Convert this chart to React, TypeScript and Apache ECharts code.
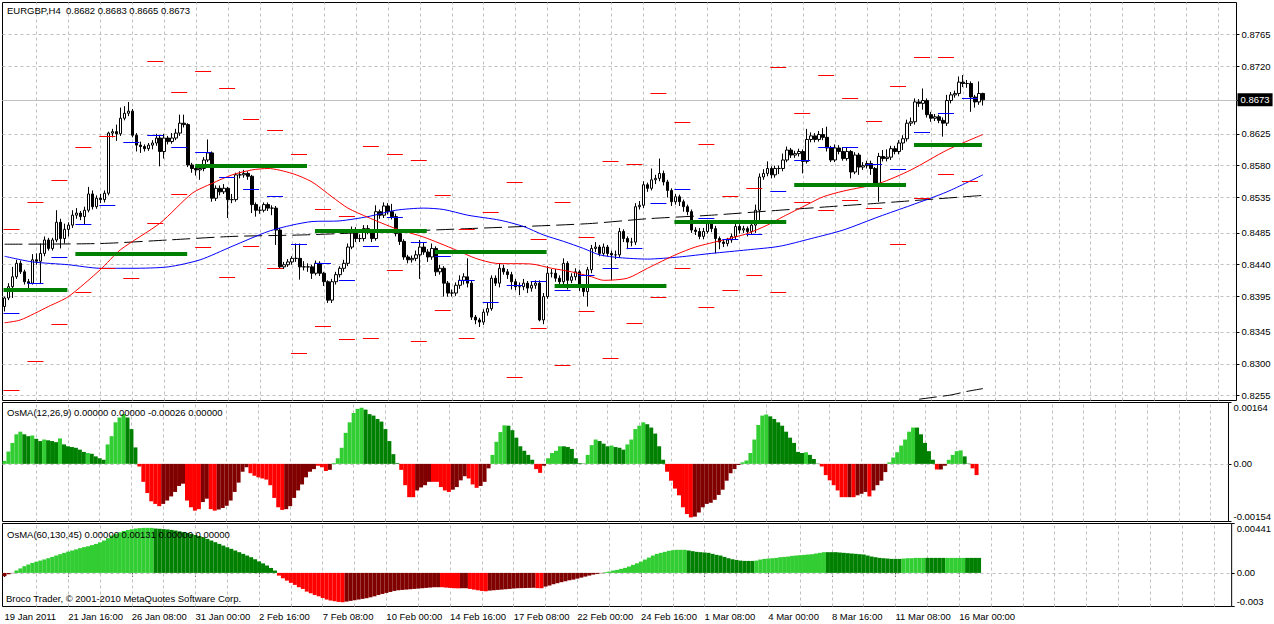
import React, { useEffect, useRef } from "react";
import * as echarts from "echarts";

// ---------- axis / label data ----------
const BAR_SLOTS = 309;
const dateLabels = [
  "19 Jan 2011", "21 Jan 16:00", "26 Jan 08:00", "31 Jan 00:00", "2 Feb 16:00", "7 Feb 08:00",
  "10 Feb 00:00", "14 Feb 16:00", "17 Feb 08:00", "22 Feb 00:00", "24 Feb 16:00", "1 Mar 08:00",
  "4 Mar 00:00", "8 Mar 16:00", "11 Mar 08:00", "16 Mar 00:00",
];
const BARS_PER_LABEL = 16;
const priceTicks = [0.8255, 0.83, 0.8345, 0.8395, 0.844, 0.8485, 0.8535, 0.858, 0.8625, 0.872, 0.8765];
const currentPrice = 0.8673;
const osma1Ticks = [-0.00154, 0, 0.00164];
const osma1TickText = ["-0.00154", "0.00", "0.00164"];
const osma2Ticks = [-0.003, 0, 0.00441];
const osma2TickText = ["-0.003", "0.00", "0.00441"];

// ---------- price data (pips, 0.0001) ----------
const firstOpen = 8381;
const closes = [
  8393, 8409, 8423, 8442, 8430, 8416, 8414, 8447, 8445, 8456,
  8475, 8463, 8475, 8500, 8477, 8490, 8496, 8510, 8513, 8508,
  8517, 8540, 8522, 8534, 8532, 8541, 8626, 8628, 8625, 8647,
  8654, 8657, 8623, 8609, 8607, 8604, 8609, 8612, 8619, 8600,
  8619, 8614, 8619, 8626, 8640, 8638, 8581, 8576, 8574, 8576,
  8588, 8598, 8534, 8548, 8543, 8548, 8532, 8532, 8567, 8567,
  8569, 8565, 8525, 8517, 8517, 8525, 8520, 8520, 8489, 8437,
  8440, 8444, 8449, 8449, 8437, 8437, 8437, 8428, 8442, 8428,
  8416, 8390, 8416, 8426, 8435, 8442, 8465, 8489, 8477, 8477,
  8491, 8487, 8477, 8515, 8510, 8523, 8515, 8508, 8484, 8473,
  8451, 8447, 8449, 8454, 8465, 8458, 8451, 8463, 8430, 8435,
  8414, 8400, 8400, 8411, 8418, 8423, 8414, 8366, 8362, 8359,
  8373, 8378, 8421, 8414, 8435, 8430, 8426, 8416, 8409, 8409,
  8414, 8407, 8411, 8414, 8362, 8395, 8428, 8428, 8421, 8416,
  8442, 8418, 8423, 8430, 8409, 8402, 8433, 8463, 8465, 8456,
  8465, 8456, 8454, 8454, 8487, 8477, 8472, 8472, 8522, 8524,
  8553, 8548, 8560, 8562, 8569, 8557, 8545, 8529, 8536, 8529,
  8522, 8515, 8489, 8487, 8480, 8487, 8498, 8491, 8477, 8472,
  8470, 8475, 8480, 8494, 8489, 8491, 8487, 8496, 8517, 8564,
  8569, 8576, 8567, 8576, 8576, 8588, 8602, 8595, 8597, 8600,
  8586, 8617, 8622, 8617, 8624, 8620, 8605, 8588, 8605, 8600,
  8590, 8600, 8571, 8595, 8578, 8580, 8583, 8576, 8555, 8593,
  8590, 8592, 8604, 8600, 8612, 8618, 8640, 8642, 8670, 8668,
  8672, 8652, 8647, 8649, 8644, 8640, 8672, 8680, 8682, 8698,
  8696, 8696, 8677, 8670, 8682, 8673,
];
const highs = [
  8395, 8414, 8437, 8447, 8446, 8433, 8420, 8455, 8456, 8470,
  8480, 8478, 8478, 8517, 8505, 8498, 8500, 8517, 8520, 8516,
  8522, 8550, 8545, 8538, 8540, 8545, 8628, 8632, 8638, 8662,
  8664, 8670, 8660, 8626, 8614, 8610, 8612, 8616, 8625, 8623,
  8625, 8622, 8626, 8632, 8652, 8652, 8640, 8584, 8579, 8581,
  8592, 8617, 8600, 8552, 8552, 8554, 8550, 8540, 8570, 8572,
  8574, 8572, 8567, 8528, 8522, 8528, 8528, 8524, 8523, 8492,
  8444, 8448, 8452, 8470, 8470, 8445, 8442, 8440, 8446, 8445,
  8430, 8418, 8420, 8430, 8438, 8447, 8470, 8494, 8493, 8483,
  8496, 8496, 8490, 8524, 8518, 8528, 8527, 8526, 8512, 8487,
  8476, 8454, 8453, 8460, 8475, 8471, 8462, 8470, 8466, 8440,
  8438, 8417, 8405, 8415, 8425, 8428, 8449, 8417, 8369, 8365,
  8377, 8387, 8425, 8425, 8442, 8440, 8434, 8430, 8420, 8415,
  8420, 8417, 8416, 8418, 8418, 8400, 8438, 8434, 8434, 8425,
  8449, 8445, 8428, 8435, 8433, 8412, 8437, 8468, 8472, 8468,
  8470, 8468, 8460, 8460, 8492, 8490, 8480, 8478, 8527, 8530,
  8558, 8556, 8576, 8567, 8590, 8573, 8560, 8548, 8540, 8539,
  8532, 8525, 8518, 8493, 8492, 8492, 8503, 8502, 8495, 8480,
  8476, 8478, 8484, 8499, 8497, 8495, 8494, 8500, 8525, 8569,
  8575, 8586, 8579, 8580, 8580, 8597, 8607, 8605, 8601, 8604,
  8603, 8632, 8627, 8626, 8629, 8633, 8635, 8608, 8610, 8609,
  8606, 8605, 8602, 8599, 8598, 8585, 8587, 8587, 8578, 8598,
  8602, 8603, 8608, 8608, 8616, 8623, 8645, 8648, 8675, 8674,
  8689, 8675, 8656, 8653, 8652, 8648, 8680, 8684, 8686, 8706,
  8708, 8701, 8699, 8680, 8699, 8683,
];
const lows = [
  8374, 8390, 8393, 8420, 8427, 8412, 8405, 8412, 8440, 8414,
  8452, 8460, 8460, 8472, 8463, 8470, 8480, 8492, 8505, 8503,
  8497, 8514, 8518, 8519, 8527, 8528, 8538, 8620, 8615, 8622,
  8644, 8650, 8620, 8600, 8598, 8600, 8601, 8603, 8608, 8579,
  8590, 8610, 8611, 8616, 8622, 8634, 8578, 8570, 8566, 8560,
  8572, 8585, 8529, 8530, 8538, 8540, 8506, 8527, 8529, 8562,
  8563, 8560, 8513, 8508, 8512, 8514, 8516, 8510, 8468, 8435,
  8434, 8437, 8440, 8444, 8419, 8432, 8430, 8420, 8425, 8424,
  8410, 8386, 8386, 8412, 8422, 8430, 8438, 8462, 8472, 8472,
  8473, 8483, 8472, 8474, 8505, 8506, 8511, 8504, 8480, 8468,
  8447, 8442, 8443, 8445, 8420, 8454, 8444, 8447, 8424, 8426,
  8395, 8395, 8395, 8396, 8406, 8412, 8408, 8362, 8356, 8352,
  8355, 8368, 8375, 8410, 8408, 8426, 8420, 8405, 8404, 8397,
  8404, 8400, 8402, 8406, 8360, 8356, 8392, 8422, 8416, 8410,
  8412, 8405, 8414, 8418, 8403, 8395, 8381, 8428, 8458, 8452,
  8452, 8452, 8418, 8448, 8450, 8472, 8462, 8466, 8468, 8518,
  8520, 8543, 8545, 8554, 8558, 8552, 8535, 8523, 8525, 8523,
  8515, 8510, 8485, 8482, 8476, 8476, 8484, 8486, 8456, 8462,
  8465, 8466, 8471, 8476, 8484, 8485, 8480, 8483, 8485, 8500,
  8560, 8565, 8562, 8563, 8568, 8572, 8585, 8591, 8591, 8593,
  8569, 8583, 8613, 8613, 8614, 8616, 8600, 8585, 8585, 8596,
  8587, 8587, 8562, 8568, 8567, 8574, 8576, 8567, 8552, 8529,
  8586, 8586, 8588, 8596, 8596, 8602, 8614, 8636, 8638, 8663,
  8659, 8648, 8642, 8643, 8640, 8621, 8636, 8668, 8676, 8678,
  8691, 8690, 8656, 8662, 8666, 8665,
];

// moving averages: [bar, pips]
const redMA = [
  [0, 8358], [4, 8362], [11, 8381], [16, 8395], [24, 8433], [29, 8461], [39, 8499], [47, 8541],
  [52, 8555], [57, 8567], [62, 8574], [66, 8576], [72, 8569], [77, 8557], [82, 8536], [86, 8520],
  [91, 8507], [98, 8491], [105, 8479], [113, 8461], [118, 8449], [123, 8442], [132, 8441], [137, 8435],
  [142, 8430], [147, 8423], [150, 8418], [156, 8421], [161, 8435], [168, 8454], [173, 8465], [180, 8475],
  [186, 8484], [191, 8496], [195, 8508], [201, 8525], [205, 8536], [210, 8544], [219, 8555], [227, 8574],
  [236, 8602], [245, 8624],
];
const blueMA = [
  [0, 8452], [7, 8444], [16, 8440], [24, 8435], [32, 8435], [41, 8437], [49, 8447], [57, 8466],
  [66, 8487], [72, 8496], [77, 8501], [84, 8502], [91, 8508], [98, 8517], [105, 8520], [110, 8518],
  [116, 8510], [124, 8503], [130, 8494], [135, 8482], [140, 8473], [145, 8463], [149, 8454], [154, 8450],
  [161, 8448], [169, 8451], [177, 8456], [186, 8461], [194, 8466], [202, 8477], [210, 8489], [219, 8508],
  [227, 8524], [236, 8543], [245, 8567],
];
const blackMA = [
  [0, 8469], [24, 8470], [41, 8475], [57, 8480], [74, 8482], [84, 8484], [116, 8491], [146, 8498],
  [161, 8505], [177, 8510], [194, 8517], [209, 8523], [219, 8527], [245, 8538],
];
const blackMA2 = [[229, 8250], [233, 8253], [237, 8256], [241, 8261], [245, 8265]];

// daily levels per trading day (pips)
const pivotR = [8490, 8529, 8560, 8607, 8622, null, 8728, 8684, 8714, 8690, 8646, 8630, 8596, 8519, 8509, 8608, 8597, 8588, 8538, 8491, 8514, 8557, 8476, 8529, 8479, 8586, 8582, 8683, 8641, 8610, 8537, 8548, 8719, 8654, 8708, 8675, 8643, 8692, 8733, 8733, null];
const pivotP = [8372, 8414, 8451, 8498, 8524, 8613, 8623, 8607, 8599, 8564, 8547, 8537, 8469, 8442, 8418, 8466, 8507, 8472, 8452, 8418, 8387, 8411, 8417, 8404, 8425, 8436, 8463, 8527, 8547, 8506, 8476, 8484, 8544, 8588, 8606, 8606, 8582, 8575, 8627, 8655, 8675];
const pivotS = [8263, 8304, 8356, 8401, 8435, 8421, 8499, 8540, 8465, 8423, 8466, 8435, 8316, 8353, 8335, 8337, 8433, 8332, 8376, 8336, null, 8281, 8350, 8298, 8375, 8308, 8357, 8394, 8435, 8381, 8405, 8425, 8401, 8528, 8517, 8531, 8520, 8470, 8535, 8568, 8559];

// weekly levels
const weeklyStart = [0, 18, 48, 78, 108, 138, 168, 198, 228];
const weeklyEnd = [16, 46, 76, 106, 136, 166, 196, 226, 245];
const weeklyPrice = [8404, 8455, 8580, 8488, 8458, 8410, 8500, 8552, 8609];

// OsMA(12,26,9), units of 0.00001
const osma1 = [
  8, 33, 56, 79, 86, 79, 74, 76, 67, 61,
  65, 63, 61, 58, 68, 52, 47, 45, 43, 38,
  32, 29, 27, 20, 15, 11, 52, 74, 111, 124,
  133, 124, 93, 44, -7, -48, -78, -100, -107, -113,
  -107, -98, -87, -75, -59, -53, -98, -116, -125, -121,
  -102, -93, -121, -125, -122, -118, -112, -98, -75, -50,
  -21, -9, -25, -32, -36, -39, -42, -57, -91, -116,
  -123, -121, -113, -91, -71, -55, -36, -21, -14, -5,
  -9, -19, -16, 2, 15, 43, 83, 111, 136, 147,
  150, 145, 133, 129, 120, 113, 93, 61, 26, 2,
  -16, -57, -89, -89, -71, -63, -57, -48, -48, -48,
  -62, -71, -75, -69, -62, -44, -33, -39, -55, -64,
  -59, -48, -12, 24, 59, 85, 103, 102, 90, 70,
  47, 35, 24, 11, -14, -24, -5, 15, 29, 35,
  47, 47, 45, 40, 15, 2, 1, 24, 50, 65,
  61, 54, 47, 49, 45, 43, 38, 52, 65, 93,
  102, 111, 106, 97, 81, 47, 11, -21, -45, -66,
  -84, -116, -134, -143, -141, -130, -116, -107, -104, -96,
  -83, -69, -45, -25, -14, -3, 4, 9, 29, 65,
  104, 129, 132, 127, 120, 111, 102, 86, 70, 56,
  32, 29, 31, 24, 13, 1, -7, -30, -44, -57,
  -71, -89, -89, -89, -89, -84, -80, -75, -87, -71,
  -57, -45, -22, 4, 17, 31, 49, 65, 86, 97,
  97, 79, 56, 34, 11, -15, -15, -5, 11, 24,
  34, 36, 20, 1, -12, -30,
];
const osma1Colors =
  "LLLLLDDLDD" + "LDDDLDDDDD" + "DLDDDDLLLL" + "LDDDRRRRRR" + "MMMMMMRRRR" +
  "MMRRMMMMMM" + "MMRRRRRRRR" + "RMMMMMMMMR" + "RRMLLLLLLL" + "LDDDDDDDDD" +
  "RRRRMMMMRR" + "RRRMMMMRRR" + "MMMLLLLDDD" + "DDDDRRMLLL" + "LDDDDDDLLL" +
  "DDDLDDDLLL" + "LLDDDDDRRR" + "RRRRMMMMMM" + "MMMMMMLLLL" + "LLLDDDDDDD" +
  "DDLDDDRRRR" + "RRRMRMMMRM" + "MMMLLLLLLL" + "DDDDDRMMLL" + "LLDDRR";

// OsMA(60,130,45), units of 0.00001
const osma2 = [
  -30, -12, -3, 21, 40, 60, 75, 89, 100, 110,
  120, 131, 143, 155, 167, 179, 190, 200, 210, 221,
  230, 238, 248, 259, 273, 289, 310, 334, 349, 363,
  374, 384, 390, 396, 400, 402, 402, 402, 396, 394,
  391, 388, 384, 378, 371, 364, 357, 348, 338, 329,
  319, 304, 289, 274, 259, 244, 229, 215, 200, 185,
  170, 155, 140, 122, 103, 85, 66, 44, 21, -24,
  -48, -69, -89, -107, -128, -143, -167, -182, -197, -209,
  -224, -238, -247, -253, -259, -262, -256, -250, -244, -238,
  -232, -226, -218, -209, -197, -188, -179, -170, -161, -155,
  -152, -149, -146, -143, -140, -137, -134, -131, -128, -128,
  -128, -131, -134, -137, -138, -137, -137, -143, -149, -155,
  -161, -164, -158, -155, -152, -149, -146, -143, -140, -137,
  -136, -135, -134, -133, -136, -137, -122, -113, -101, -92,
  -83, -75, -66, -60, -51, -42, -33, -24, -15, -9,
  -3, 6, 12, 21, 27, 36, 45, 57, 72, 86,
  101, 119, 137, 155, 170, 179, 188, 197, 203, 206,
  206, 206, 200, 194, 188, 185, 182, 179, 170, 161,
  155, 143, 131, 122, 116, 110, 107, 107, 107, 110,
  119, 125, 128, 131, 134, 140, 143, 146, 152, 155,
  158, 161, 164, 167, 173, 179, 185, 185, 185, 185,
  182, 179, 176, 173, 170, 167, 164, 155, 146, 140,
  134, 131, 128, 125, 125, 125, 128, 131, 131, 134,
  134, 134, 134, 134, 134, 134, 134, 134, 134, 134,
  134, 134, 134, 134, 134, 134,
];
const osma2Colors =
  "MMMLLLLLLL" + "LLLLLLLLLL" + "LLLLLLLLLL" + "LLLLLLLLDD" + "DDDDDDDDDD" +
  "DDDDDDDDDD" + "DDDDDDDDDR" + "RRRRRRRRRR" + "RRRRRRMMMM" + "MMMMMMMMMM" +
  "MMMMMMMMMM" + "RRRRRMMRRR" + "RRMMMMMMMM" + "MMMMRRMMMM" + "MMMMMMMMMM" +
  "MLLLLLLLLL" + "LLLLLLLLLL" + "LLDDDDDDDD" + "DDDDDDDDDL" + "LLLLLLLLLL" +
  "LLLLLLLDDD" + "DDDDDDDDDD" + "DDDDDDLLLL" + "LLDDDDDLLL" + "LLDDDD";

const HIST_COLORS: Record<string, string> = { L: "#32CD32", D: "#008000", R: "#FF0000", M: "#800000" };

const FONT = "Liberation Sans, Arial, sans-serif";
const GRID_LINE = "#C0C0C0";

export default function App() {
  const ref = useRef<HTMLDivElement>(null);

  useEffect(() => {
    if (!ref.current) return;
    const chart = echarts.init(ref.current, undefined, { renderer: "svg" });

    const categories = Array.from({ length: BAR_SLOTS }, (_, i) => String(i));
    const isLabelBar = (i: number) => i % BARS_PER_LABEL === 0 && i / BARS_PER_LABEL < dateLabels.length;
    const labelFor = (v: string) => {
      const i = Number(v);
      return isLabelBar(i) ? dateLabels[i / BARS_PER_LABEL] : "";
    };

    const candleData = closes.map((c, i) => {
      const o = i === 0 ? firstOpen : closes[i - 1];
      const h = Math.max(highs[i], o, c);
      const l = Math.min(lows[i], o, c);
      return [o / 1e4, c / 1e4, l / 1e4, h / 1e4];
    });

    const vLines: any[] = [];
    for (let b = 8; b < BAR_SLOTS - 2; b += 8) vLines.push({ xAxis: String(b) });

    const dashed = { color: GRID_LINE, type: [3, 3] as any, width: 1 };

    const segRender = (color: string, width: number) => (params: any, api: any) => {
      const p1 = api.coord([api.value(0), api.value(2)]);
      const p2 = api.coord([api.value(1), api.value(2)]);
      const y = width % 2 === 1 ? Math.round(p1[1]) + 0.5 : Math.round(p1[1]);
      return {
        type: "line",
        silent: true,
        shape: { x1: p1[0] - 1, y1: y, x2: p2[0] - 1, y2: y },
        style: { stroke: color, lineWidth: width },
      };
    };

    const dayLevels = (arr: (number | null)[]) =>
      arr
        .map((p, k) => (p == null ? null : [6 * k, 6 * k + 4, p / 1e4]))
        .filter((d) => d != null);

    const weekly = weeklyPrice.map((p, i) => [weeklyStart[i], weeklyEnd[i], p / 1e4]);

    const maLine = (data: number[][], color: string, type: any, z: number) => ({
      type: "line",
      xAxisIndex: 0,
      yAxisIndex: 0,
      data: data.map(([b, p]) => [b, p / 1e4]),
      showSymbol: false,
      symbol: "none",
      smooth: 0.25,
      silent: true,
      z,
      lineStyle: { color, width: 1, type },
    });

    const tickFmt = (ticks: number[], texts: string[]) => (v: number) => {
      for (let i = 0; i < ticks.length; i++) if (Math.abs(ticks[i] - v) < 1e-9) return texts[i];
      return "";
    };

    const xAxisFor = (g: number) => ({
      gridIndex: g,
      type: "category",
      data: categories,
      boundaryGap: true,
      axisLine: { show: false },
      splitLine: { show: false },
      axisTick: {
        show: g === 2,
        alignWithLabel: true,
        interval: (i: number) => isLabelBar(i),
        length: 4,
        lineStyle: { color: "#000" },
      },
      axisLabel: {
        show: g === 2,
        interval: (i: number) => isLabelBar(i),
        formatter: labelFor,
        align: "left",
        margin: 5,
        color: "#000",
        fontSize: 9.5,
        fontFamily: FONT,
      },
    });

    const histItems = (vals: number[], colors: string) =>
      vals.map((v, i) => ({ value: v / 1e5, itemStyle: { color: HIST_COLORS[colors[i]] } }));

    const gridMarkLine = (extra: any[]) => ({
      silent: true,
      symbol: ["none", "none"],
      precision: 6,
      z: 1,
      label: { show: false },
      lineStyle: dashed,
      data: [...vLines, ...extra],
    });

    const option: any = {
      animation: false,
      backgroundColor: "#fff",
      textStyle: { fontFamily: FONT },
      grid: [
        { left: 2.5, top: 2.5, width: 1234, height: 398, show: true, borderColor: "#000", borderWidth: 1, backgroundColor: "#fff" },
        { left: 2.5, top: 402.5, width: 1234, height: 119, show: true, borderColor: "#000", borderWidth: 1, backgroundColor: "#fff" },
        { left: 2.5, top: 523.5, width: 1234, height: 83, show: true, borderColor: "#000", borderWidth: 1, backgroundColor: "#fff" },
      ],
      xAxis: [xAxisFor(0), xAxisFor(1), xAxisFor(2)],
      yAxis: [
        {
          gridIndex: 0,
          type: "value",
          position: "right",
          min: 0.82482,
          max: 0.88105,
          splitLine: { show: false },
          axisLine: { show: false },
          axisTick: { show: true, customValues: [...priceTicks, currentPrice], length: 3, lineStyle: { color: "#000" } },
          axisLabel: {
            customValues: priceTicks,
            formatter: (v: number) => v.toFixed(4),
            color: "#000",
            fontSize: 9.5,
            fontFamily: FONT,
            margin: 5,
          },
        },
        {
          gridIndex: 1,
          type: "value",
          position: "right",
          min: osma1Ticks[0],
          max: osma1Ticks[2],
          splitLine: { show: false },
          axisLine: { show: false },
          axisTick: { show: true, customValues: osma1Ticks, length: 3, lineStyle: { color: "#000" } },
          axisLabel: {
            customValues: osma1Ticks,
            formatter: tickFmt(osma1Ticks, osma1TickText),
            verticalAlignMinLabel: "bottom",
            verticalAlignMaxLabel: "top",
            color: "#000",
            fontSize: 9.5,
            fontFamily: FONT,
            margin: 5,
          },
        },
        {
          gridIndex: 2,
          type: "value",
          position: "right",
          min: osma2Ticks[0],
          max: osma2Ticks[2],
          splitLine: { show: false },
          axisLine: { show: false },
          axisTick: { show: true, customValues: osma2Ticks, length: 3, lineStyle: { color: "#000" } },
          axisLabel: {
            customValues: osma2Ticks,
            formatter: tickFmt(osma2Ticks, osma2TickText),
            verticalAlignMinLabel: "bottom",
            verticalAlignMaxLabel: "top",
            color: "#000",
            fontSize: 9.5,
            fontFamily: FONT,
            margin: 5,
          },
        },
      ],
      graphic: [
        { type: "text", left: 7, top: 5, z: 100, silent: true, style: { text: "EURGBP,H4  0.8682 0.8683 0.8665 0.8673", fill: "#000", fontSize: 9.5, fontFamily: FONT } },
        { type: "text", left: 7, top: 407, z: 100, silent: true, style: { text: "OsMA(12,26,9) 0.00000 0.00000 -0.00026 0.00000", fill: "#000", fontSize: 9.5, fontFamily: FONT } },
        { type: "text", left: 7, top: 529.5, z: 100, silent: true, style: { text: "OsMA(60,130,45) 0.00000 0.00131 0.00000 0.00000", fill: "#000", fontSize: 9.5, fontFamily: FONT } },
        { type: "text", left: 6, top: 593.5, z: 100, silent: true, style: { text: "Broco Trader, \u00A9 2001-2010 MetaQuotes Software Corp.", fill: "#000", fontSize: 9.5, fontFamily: FONT } },
      ],
      series: [
        {
          type: "candlestick",
          xAxisIndex: 0,
          yAxisIndex: 0,
          data: candleData,
          barWidth: 3,
          z: 3,
          silent: true,
          itemStyle: { color: "#fff", color0: "#000", borderColor: "#000", borderColor0: "#000", borderWidth: 1 },
          markLine: gridMarkLine([
            ...priceTicks.map((p) => ({ yAxis: p })),
            { yAxis: currentPrice },
            {
              yAxis: currentPrice,
              lineStyle: { color: GRID_LINE, type: "solid", width: 1 },
              label: {
                show: true,
                position: "end",
                formatter: currentPrice.toFixed(4),
                color: "#fff",
                backgroundColor: "#000",
                padding: [2, 3, 1, 3],
                distance: 1,
                fontSize: 9.5,
                fontFamily: FONT,
              },
            },
          ]),
        },
        maLine(blackMA, "#000", [18, 6], 4),
        maLine(blackMA2, "#000", [18, 6], 4),
        maLine(blueMA, "#0000FF", "solid", 4),
        maLine(redMA, "#FF0000", "solid", 4),
        {
          type: "custom",
          xAxisIndex: 0,
          yAxisIndex: 0,
          z: 5,
          silent: true,
          renderItem: segRender("#0000FF", 1),
          encode: { x: [0, 1], y: 2 },
          data: dayLevels(pivotP),
        },
        {
          type: "custom",
          xAxisIndex: 0,
          yAxisIndex: 0,
          z: 5,
          silent: true,
          renderItem: segRender("#FF0000", 1),
          encode: { x: [0, 1], y: 2 },
          data: [...dayLevels(pivotR), ...dayLevels(pivotS)],
        },
        {
          type: "custom",
          xAxisIndex: 0,
          yAxisIndex: 0,
          z: 6,
          silent: true,
          renderItem: segRender("#008000", 4),
          encode: { x: [0, 1], y: 2 },
          data: weekly,
        },
        {
          type: "bar",
          xAxisIndex: 1,
          yAxisIndex: 1,
          data: histItems(osma1, osma1Colors),
          barWidth: 4,
          barGap: "0%",
          barCategoryGap: "0%",
          z: 3,
          silent: true,
          markLine: gridMarkLine([{ yAxis: 0 }]),
        },
        {
          type: "bar",
          xAxisIndex: 2,
          yAxisIndex: 2,
          data: histItems(osma2, osma2Colors),
          barWidth: 4,
          barGap: "0%",
          barCategoryGap: "0%",
          z: 3,
          silent: true,
          markLine: gridMarkLine([{ yAxis: 0 }]),
        },
      ],
    };

    chart.setOption(option);
    return () => chart.dispose();
  }, []);

  return (
    <div
      ref={ref}
      style={{ position: "absolute", left: 0, top: 0, width: 1274, height: 624, background: "#fff" }}
    />
  );
}
